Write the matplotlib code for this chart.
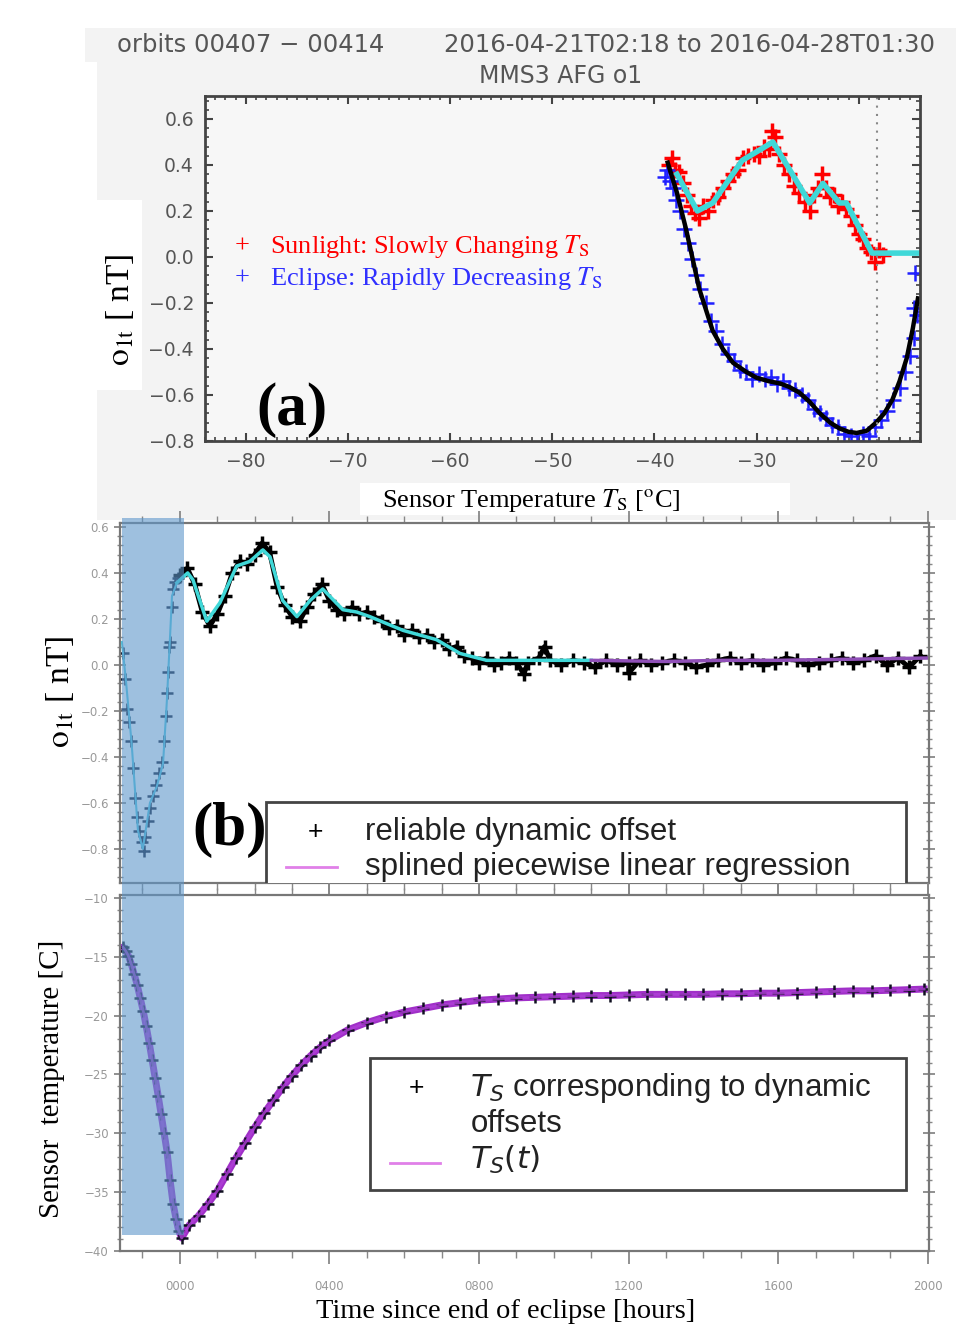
import matplotlib
matplotlib.use('Agg')
import matplotlib.pyplot as plt
import matplotlib.transforms as mtransforms
from matplotlib.patches import Rectangle
from matplotlib.ticker import MultipleLocator, FuncFormatter

plt.rcParams['mathtext.fontset'] = 'stix'

# ---------------- panel (a): offset o1t vs sensor temperature ----------------
sun_T = [-38.6, -38.3, -38.0, -37.6, -37.2, -36.8, -36.4, -36.0, -35.6, -35.2,
         -34.8, -34.3, -33.8, -33.3, -32.8, -32.3, -31.8, -31.3, -30.8, -30.3,
         -29.8, -29.3, -28.8, -28.5, -28.2, -27.8, -27.3, -26.8, -26.3, -25.8,
         -25.3, -24.8, -24.4, -24.0, -23.6, -23.2, -22.8, -22.4, -22.0, -21.6,
         -21.2, -20.8, -20.4, -20.0, -19.6, -19.2, -18.8, -18.4, -18.0, -17.6]
sun_o = [0.40, 0.43, 0.38, 0.37, 0.32, 0.27, 0.22, 0.19, 0.17, 0.22,
         0.20, 0.25, 0.26, 0.30, 0.33, 0.36, 0.38, 0.43, 0.44, 0.45,
         0.44, 0.48, 0.47, 0.55, 0.52, 0.45, 0.40, 0.36, 0.31, 0.28,
         0.24, 0.20, 0.27, 0.30, 0.36, 0.30, 0.26, 0.27, 0.22, 0.24,
         0.21, 0.18, 0.14, 0.10, 0.08, 0.04, 0.02, -0.02, 0.03, 0.01]
sun_fit_T = [-37.8, -35.8, -34.3, -31.4, -28.4, -24.8, -23.5, -21.9, -21.2, -18.7, -14.0]
sun_fit_o = [0.36, 0.20, 0.235, 0.42, 0.50, 0.235, 0.32, 0.235, 0.235, 0.017, 0.017]

ecl_T = [-39.0, -38.8, -38.5, -38.2, -37.9, -37.5, -37.1, -36.7, -36.3, -35.9,
         -35.5, -35.0, -34.5, -34.0, -33.4, -32.8, -32.2, -31.6, -31.0, -30.4,
         -29.8, -29.2, -28.6, -28.0, -27.4, -26.8, -26.2, -25.6, -25.0, -24.4,
         -23.8, -23.2, -22.6, -22.0, -21.4, -20.8, -20.2, -19.6, -19.0, -18.4,
         -17.8, -17.2, -16.6, -16.0, -15.5, -15.0, -14.6, -14.3, -14.5, -14.6]
ecl_o = [0.35, 0.38, 0.33, 0.30, 0.25, 0.20, 0.12, 0.06, -0.01, -0.08,
         -0.14, -0.20, -0.28, -0.32, -0.38, -0.42, -0.45, -0.49, -0.50, -0.53,
         -0.51, -0.53, -0.52, -0.55, -0.54, -0.57, -0.58, -0.60, -0.62, -0.66,
         -0.68, -0.70, -0.73, -0.74, -0.77, -0.78, -0.80, -0.77, -0.78, -0.74,
         -0.71, -0.67, -0.62, -0.57, -0.50, -0.43, -0.35, -0.25, -0.07, -0.22]
ecl_fit_T = [-38.7, -37.8, -36.9, -35.6, -34.3, -33.3, -32.3, -31.0, -30.0, -28.8,
             -27.7, -26.8, -25.8, -24.8, -23.8, -22.8, -21.9, -21.0, -20.2, -19.2,
             -18.3, -17.5, -16.7, -16.0, -15.3, -14.7, -14.2]
ecl_fit_o = [0.41, 0.28, 0.12, -0.14, -0.32, -0.40, -0.46, -0.50, -0.525, -0.54,
             -0.55, -0.565, -0.59, -0.63, -0.68, -0.72, -0.745, -0.76, -0.765, -0.755,
             -0.72, -0.68, -0.62, -0.54, -0.44, -0.31, -0.18]
eclipse_end_T = -18.2

# ---------------- panel (b): offset and T_S vs time since end of eclipse ----------------
off_ecl_t = [-1.52, -1.47, -1.42, -1.36, -1.30, -1.25, -1.20, -1.14, -1.08, -1.02,
             -0.97, -0.92, -0.86, -0.80, -0.72, -0.64, -0.56, -0.48, -0.42, -0.38,
             -0.34, -0.31, -0.28, -0.25, -0.22, -0.18, -0.12, -0.06]
off_ecl_o = [0.05, -0.06, -0.19, -0.25, -0.33, -0.45, -0.58, -0.66, -0.72, -0.77,
             -0.81, -0.75, -0.68, -0.62, -0.57, -0.52, -0.47, -0.42, -0.33, -0.22,
             -0.12, -0.03, 0.08, 0.10, 0.25, 0.33, 0.36, 0.38]
off_sun_t = [0.0, 0.2, 0.4, 0.6, 0.8, 1.0, 1.2, 1.4, 1.6, 1.8, 2.0, 2.2, 2.4, 2.6, 2.8,
             3.0, 3.2, 3.4, 3.6, 3.8, 4.0, 4.2, 4.4, 4.6, 4.8, 5.0, 5.2, 5.4, 5.6, 5.8,
             6.0, 6.2, 6.4, 6.6, 6.8, 7.0, 7.2, 7.4, 7.6, 7.8, 8.0, 8.2, 8.4, 8.6, 8.8,
             9.0, 9.2, 9.3, 9.6, 9.75, 9.9, 10.2, 10.5, 10.8, 11.1, 11.4, 11.7, 12.0, 12.0,
             12.3, 12.6, 12.9, 13.2, 13.5, 13.8, 14.1, 14.4, 14.7, 15.0, 15.3, 15.6, 15.9,
             16.2, 16.5, 16.8, 17.1, 17.4, 17.7, 18.0, 18.3, 18.6, 18.9, 19.2, 19.5, 19.8]
off_sun_o = [0.39, 0.42, 0.35, 0.23, 0.17, 0.22, 0.30, 0.40, 0.45, 0.44, 0.48, 0.53, 0.49, 0.34, 0.26,
             0.21, 0.19, 0.25, 0.31, 0.35, 0.28, 0.24, 0.22, 0.25, 0.22, 0.23, 0.21, 0.19, 0.16, 0.17,
             0.13, 0.15, 0.12, 0.13, 0.10, 0.11, 0.07, 0.08, 0.04, 0.03, 0.01, 0.03, 0.00, 0.01, 0.03,
             0.01, -0.04, 0.01, 0.03, 0.08, 0.02, 0.00, 0.02, 0.01, -0.01, 0.02, 0.00, 0.01, -0.035,
             0.02, 0.00, 0.01, 0.02, 0.01, -0.01, 0.00, 0.02, 0.03, 0.01, 0.02, 0.00, 0.01,
             0.03, 0.02, 0.00, 0.01, 0.02, 0.03, 0.01, 0.02, 0.04, 0.00, 0.03, -0.01, 0.04]
fit_ecl_t = [-1.55, -1.44, -1.29, -1.12, -0.99, -0.80, -0.62, -0.45, -0.35, -0.27, -0.21, -0.08]
fit_ecl_o = [0.10, -0.07, -0.34, -0.72, -0.80, -0.60, -0.53, -0.43, -0.165, 0.096, 0.30, 0.357]
fit_sun_t = [-0.08, 0.21, 0.35, 0.72, 1.07, 1.52, 1.87, 2.22, 2.41, 2.75, 3.13, 3.48,
             3.82, 4.36, 4.73, 5.08, 5.97, 6.86, 7.49, 8.2, 8.64, 10.4, 11.0]
fit_sun_o = [0.357, 0.40, 0.37, 0.19, 0.27, 0.43, 0.45, 0.50, 0.47, 0.28, 0.21, 0.28,
             0.33, 0.24, 0.23, 0.21, 0.15, 0.11, 0.05, 0.02, 0.02, 0.02, 0.02]
fit_late_t = [11.0, 13.0, 14.5, 16.0, 18.0, 20.0]
fit_late_o = [0.02, 0.015, 0.02, 0.02, 0.025, 0.03]

temp_t = [-1.52, -1.45, -1.38, -1.30, -1.22, -1.14, -1.06, -0.98, -0.90, -0.82,
          -0.74, -0.66, -0.58, -0.50, -0.42, -0.34, -0.26, -0.18, -0.10, -0.03, 0.05,
          0.25, 0.5, 0.75, 1.0, 1.25, 1.5, 1.75, 2.0, 2.25, 2.5, 2.75, 3.0, 3.25, 3.5,
          3.75, 4.0, 4.5, 5.0, 5.5, 6.0, 6.5, 7.0, 7.5, 8.0, 8.5, 9.0, 9.5, 10.0, 10.5,
          11.0, 11.5, 12.0, 12.5, 13.0, 13.5, 14.0, 14.5, 15.0, 15.5, 16.0, 16.5, 17.0,
          17.5, 18.0, 18.5, 19.0, 19.5, 19.9]
temp_v = [-14.2, -14.5, -14.9, -15.6, -16.5, -17.4, -18.5, -19.6, -20.9, -22.3,
          -23.8, -25.3, -26.8, -28.4, -30.0, -31.6, -34.0, -36.0, -37.3, -38.3, -38.9,
          -37.8, -37.0, -36.0, -34.9, -33.5, -32.1, -30.8, -29.5, -28.3, -27.2, -26.1, -25.1, -24.2, -23.4,
          -22.7, -22.1, -21.2, -20.6, -20.1, -19.7, -19.4, -19.1, -18.9, -18.7, -18.6, -18.5, -18.45, -18.4, -18.35,
          -18.3, -18.3, -18.25, -18.2, -18.2, -18.2, -18.2, -18.15, -18.15, -18.1, -18.1, -18.05, -18.0,
          -17.95, -17.9, -17.9, -17.85, -17.8, -17.75]
eclipse_span = (-1.55, 0.11)
hour_ticks = [0, 4, 8, 12, 16, 20]

W, H = 956, 1327
fig = plt.figure(figsize=(W / 100, H / 100), dpi=100)


def box(l, t, r, b):
    return [l / W, 1 - b / H, (r - l) / W, (b - t) / H]


def fy(py):
    return 1 - py / H


def minus(v, p):
    return f'{v:.1f}'.replace('-', '\u2212')


# light grey backdrop of the pasted panel (a), white patches behind its labels
fig.add_artist(Rectangle((85 / W, fy(520)), 1, fy(28) - fy(520), transform=fig.transFigure,
                         facecolor='#f3f3f3', edgecolor='none', zorder=0))
fig.add_artist(Rectangle((0, fy(520)), 97 / W, fy(62) - fy(520), transform=fig.transFigure,
                         facecolor='white', edgecolor='none', zorder=0))
fig.add_artist(Rectangle((97 / W, fy(390)), 45 / W, fy(200) - fy(390), transform=fig.transFigure,
                         facecolor='white', edgecolor='none', zorder=0))
fig.add_artist(Rectangle((360 / W, fy(515)), 430 / W, fy(483) - fy(515), transform=fig.transFigure,
                         facecolor='white', edgecolor='none', zorder=0))

# ---------------- panel (a) ----------------
ax = fig.add_axes(box(205, 96, 920, 441))
ax.set_facecolor('#f7f7f7')
ax.plot(sun_T, sun_o, '+', color='red', ms=12, mew=2.5)
ax.plot(sun_fit_T, sun_fit_o, color='#40d8d8', lw=4)
ax.plot(ecl_T, ecl_o, '+', color='#2020ff', ms=11, mew=1.8)
ax.plot(ecl_fit_T, ecl_fit_o, color='black', lw=3.2)
ax.axvline(eclipse_end_T, color='#888888', ls=(0, (1, 3)), lw=1.5)
ax.set_xlim(-84, -14)
ax.set_ylim(-0.8, 0.7)
ax.xaxis.set_major_locator(MultipleLocator(10))
ax.xaxis.set_minor_locator(MultipleLocator(1))
ax.yaxis.set_major_locator(MultipleLocator(0.2))
ax.yaxis.set_minor_locator(MultipleLocator(0.04))
ax.yaxis.set_major_formatter(FuncFormatter(minus))
ax.xaxis.set_major_formatter(FuncFormatter(lambda v, p: f'{v:.0f}'.replace('-', '\u2212')))
ax.tick_params(which='both', direction='in', top=True, right=True, colors='#444444',
               labelcolor='#555555', labelsize=13.5)
ax.tick_params(which='major', length=6, width=1.5, pad=8)
ax.tick_params(which='minor', length=3, width=1.2)
for s in ax.spines.values():
    s.set_color('#444444')
    s.set_linewidth(2)

fig.text(117 / W, fy(45), 'orbits 00407 \u2212 00414', ha='left', va='center',
         fontsize=17.5, color='#555555')
fig.text(935 / W, fy(45), '2016-04-21T02:18 to 2016-04-28T01:30', ha='right', va='center',
         fontsize=17.5, color='#555555')
fig.text(561 / W, fy(76), 'MMS3 AFG o1', ha='center', va='center', fontsize=17, color='#555555')
fig.text(242 / W, fy(247), '+', color='red', fontsize=19, family='Liberation Serif', ha='center', va='center')
fig.text(270 / W, fy(247), r'Sunlight: Slowly Changing $T_\mathrm{S}$', color='red', fontsize=19,
         family='Liberation Serif', ha='left', va='center')
fig.text(242 / W, fy(279), '+', color='#3030ff', fontsize=19, family='Liberation Serif', ha='center', va='center')
fig.text(270 / W, fy(279), r'Eclipse: Rapidly Decreasing $T_\mathrm{S}$', color='#3030ff', fontsize=19,
         family='Liberation Serif', ha='left', va='center')
fig.text(292 / W, fy(410), '(a)', fontsize=44, weight='bold', family='Liberation Serif',
         ha='center', va='center')
fig.text(120 / W, fy(310), r'$\mathrm{o}_{\mathrm{1t}}$ [ nT]', rotation=90, fontsize=24,
         family='Liberation Serif', ha='center', va='center')
fig.text(531 / W, fy(500), r'Sensor Temperature $T_\mathrm{S}$ [$^\mathrm{o}$C]', fontsize=19,
         family='Liberation Serif', ha='center', va='center')

# ---------------- panel (b), upper: offsets vs time ----------------
b1 = fig.add_axes(box(120, 523, 929, 883))
b1.plot(off_ecl_t, off_ecl_o, '+', color='#101830', ms=8, mew=1.8)
b1.plot(fit_ecl_t, fit_ecl_o, color='#50c8e0', lw=1.5)
b1.plot(off_sun_t, off_sun_o, color='black', lw=3.5)
b1.plot(off_sun_t, off_sun_o, '+', color='black', ms=10, mew=2.5)
b1.plot(fit_sun_t, fit_sun_o, color='#40d8d8', lw=2.5)
b1.plot(fit_late_t, fit_late_o, color='#9050b8', lw=2.5)
b1.set_xlim(-1.6, 20.03)
b1.set_ylim(-0.948, 0.617)

# ---------------- panel (b), lower: sensor temperature vs time ----------------
b2 = fig.add_axes(box(120, 895, 929, 1251))
b2.plot(temp_t, temp_v, color='#a030c8', lw=5)
b2.plot(temp_t, temp_v, '+', color='#101020', ms=9, mew=1.8)
b2.plot(temp_t, temp_v, color='#b040d8', lw=2, alpha=0.8)
b2.set_xlim(-1.6, 20.03)
b2.set_ylim(-40, -9.76)

for a, major, minor in ((b1, 0.2, 0.04), (b2, 5, 1)):
    a.xaxis.set_major_locator(MultipleLocator(4))
    a.xaxis.set_minor_locator(MultipleLocator(1))
    a.yaxis.set_major_locator(MultipleLocator(major))
    a.yaxis.set_minor_locator(MultipleLocator(minor))
    a.tick_params(which='both', top=True, right=True, colors='#888888', labelcolor='#999999',
                  labelsize=8.5)
    a.tick_params(axis='y', which='both', direction='inout')
    a.tick_params(axis='x', which='both', direction='out')
    a.tick_params(which='major', length=9, width=1.3)
    a.tick_params(which='minor', length=5, width=1)
    for s in a.spines.values():
        s.set_color('#777777')
        s.set_linewidth(1.6)
b1.yaxis.set_major_formatter(FuncFormatter(minus))
b1.tick_params(axis='x', labelbottom=False)
b2.yaxis.set_major_formatter(FuncFormatter(lambda v, p: f'{v:.0f}'.replace('-', '\u2212')))
b2.set_xticks(hour_ticks)
b2.set_xticklabels([f'{h:02d}00' for h in hour_ticks])
b2.tick_params(axis='x', pad=12)

# legend of upper (b) panel, cut by the lower panel as in the original
b1.add_patch(Rectangle((0.180, -0.2), 0.792, 0.425, transform=b1.transAxes, facecolor='white',
                       edgecolor='#444444', lw=2, zorder=10, clip_on=True))
b1.text(0.241, 0.142, '+', transform=b1.transAxes, fontsize=19, ha='center', va='center',
        family='Liberation Sans', zorder=11)
b1.text(0.303, 0.142, 'reliable dynamic offset', transform=b1.transAxes, fontsize=22.5,
        ha='left', va='center', family='Liberation Sans', color='#222222', zorder=11)
b1.plot([0.205, 0.268], [0.044, 0.044], transform=b1.transAxes, color='#e080e8', lw=2, zorder=11)
b1.text(0.303, 0.044, 'splined piecewise linear regression', transform=b1.transAxes, fontsize=22.5,
        ha='left', va='center', family='Liberation Sans', color='#222222', zorder=11, clip_on=True)

# legend of lower (b) panel
b2.add_patch(Rectangle((0.309, 0.171), 0.663, 0.371, transform=b2.transAxes, facecolor='white',
                       edgecolor='#444444', lw=2, zorder=10))
b2.text(0.367, 0.458, '+', transform=b2.transAxes, fontsize=19, ha='center', va='center',
        family='Liberation Sans', zorder=11)
b2.text(0.433, 0.458, r'$T_S$ corresponding to dynamic', transform=b2.transAxes, fontsize=22.5,
        ha='left', va='center', family='Liberation Sans', color='#222222', zorder=11,
        math_fontfamily='dejavusans')
b2.text(0.433, 0.357, 'offsets', transform=b2.transAxes, fontsize=22.5, ha='left', va='center',
        family='Liberation Sans', color='#222222', zorder=11)
b2.plot([0.334, 0.396], [0.247, 0.247], transform=b2.transAxes, color='#e080e8', lw=2, zorder=11)
b2.text(0.433, 0.256, r'$T_S(t)$', transform=b2.transAxes, fontsize=22.5, ha='left', va='center',
        color='#222222', zorder=11, math_fontfamily='dejavusans')

# eclipse interval shading across both (b) panels
trans = mtransforms.blended_transform_factory(b2.transData, fig.transFigure)
fig.add_artist(Rectangle((eclipse_span[0], fy(1235)), eclipse_span[1] - eclipse_span[0],
                         fy(518) - fy(1235), transform=trans, facecolor='#5e97cb',
                         edgecolor='none', alpha=0.6, zorder=5))

fig.text(230 / W, fy(830), '(b)', fontsize=44, weight='bold', family='Liberation Serif',
         ha='center', va='center')
fig.text(60 / W, fy(692), r'$\mathrm{o}_{\mathrm{1t}}$ [ nT]', rotation=90, fontsize=24,
         family='Liberation Serif', ha='center', va='center')
fig.text(52 / W, fy(1079), 'Sensor  temperature [C]', rotation=90, fontsize=21,
         family='Liberation Serif', ha='center', va='center')
fig.text(506 / W, fy(1311), 'Time since end of eclipse [hours]', fontsize=20.5,
         family='Liberation Serif', ha='center', va='center')

fig.savefig('out.png', dpi=100)
